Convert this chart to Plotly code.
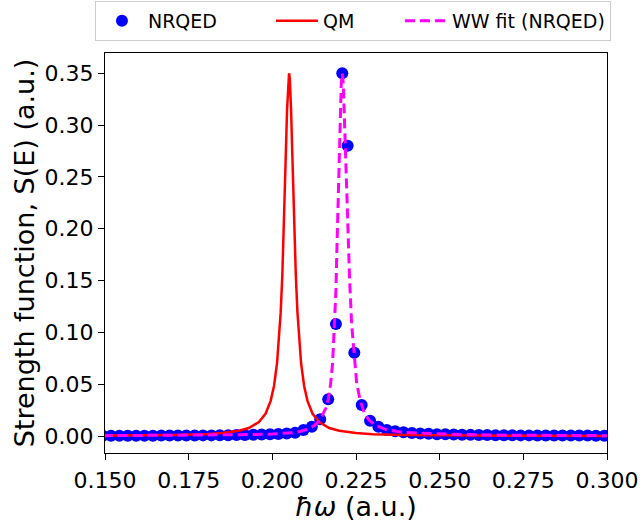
import plotly.graph_objects as go

# NRQED points
nrqed_x = [
    0.1493, 0.1518, 0.1543, 0.1568, 0.1593, 0.1618, 0.1643, 0.1668, 0.1693, 0.1718,
    0.1743, 0.1768, 0.1793, 0.1818, 0.1843, 0.1868, 0.1893, 0.1918, 0.1943, 0.1968,
    0.1993, 0.2018, 0.2043, 0.2068, 0.2093, 0.2118, 0.2143, 0.2167, 0.2190, 0.2209,
    0.2225, 0.2245, 0.2267, 0.2292, 0.2317, 0.2342, 0.2367, 0.2392, 0.2417, 0.2442,
    0.2467, 0.2492, 0.2517, 0.2542, 0.2567, 0.2592, 0.2617, 0.2642, 0.2667, 0.2692,
    0.2717, 0.2742, 0.2767, 0.2792, 0.2817, 0.2842, 0.2867, 0.2892, 0.2917, 0.2942,
    0.2967, 0.2992, 0.3017,
]
nrqed_y = [
    0.0002, 0.0002, 0.0002, 0.0003, 0.0003, 0.0003, 0.0003, 0.0004, 0.0004, 0.0004,
    0.0005, 0.0005, 0.0006, 0.0006, 0.0007, 0.0008, 0.0009, 0.0010, 0.0012, 0.0014,
    0.0017, 0.0020, 0.0025, 0.0032, 0.0058, 0.0090, 0.0161, 0.0354, 0.1081, 0.3500,
    0.2802, 0.0804, 0.0299, 0.0148, 0.0090, 0.0058, 0.0045, 0.0036, 0.0030, 0.0025,
    0.0021, 0.0018, 0.0016, 0.0014, 0.0012, 0.0011, 0.0010, 0.0009, 0.0008, 0.0007,
    0.0007, 0.0006, 0.0006, 0.0005, 0.0005, 0.0005, 0.0004, 0.0004, 0.0004, 0.0004,
    0.0003, 0.0003, 0.0003,
]

# QM curve
qm_x = [
    0.1493, 0.1550, 0.1700, 0.1800, 0.1850, 0.1900, 0.1930, 0.1960, 0.1980, 0.1995,
    0.2005, 0.2014, 0.2020, 0.2025, 0.2030, 0.2034, 0.2038, 0.2041, 0.2044, 0.2046,
    0.2048, 0.2050, 0.2052, 0.2054, 0.2056, 0.2059, 0.2062, 0.2066, 0.2070, 0.2075,
    0.2080, 0.2086, 0.2095, 0.2105, 0.2120, 0.2140, 0.2170, 0.2200, 0.2250, 0.2300,
    0.2400, 0.2550, 0.2750, 0.3017,
]
qm_y = [
    0.0004, 0.0005, 0.0009, 0.0018, 0.0028, 0.0050, 0.0077, 0.0135, 0.0217, 0.0339,
    0.0483, 0.0700, 0.0926, 0.1195, 0.1566, 0.1955, 0.2424, 0.2800, 0.3150, 0.3336,
    0.3457, 0.3500, 0.3457, 0.3336, 0.3150, 0.2800, 0.2424, 0.1955, 0.1566, 0.1195,
    0.0926, 0.0700, 0.0483, 0.0339, 0.0217, 0.0135, 0.0077, 0.0050, 0.0028, 0.0018,
    0.0009, 0.0005, 0.0002, 0.0001,
]

# WW fit to NRQED
ww_x = [
    0.1493, 0.1600, 0.1700, 0.1800, 0.1900, 0.1950, 0.2000, 0.2040, 0.2070, 0.2090,
    0.2110, 0.2125, 0.2138, 0.2148, 0.2160, 0.2167, 0.2174, 0.2180, 0.2186, 0.2190,
    0.2194, 0.2199, 0.2203, 0.2206, 0.2209, 0.2212, 0.2215, 0.2218, 0.2222, 0.2226,
    0.2231, 0.2237, 0.2245, 0.2252, 0.2262, 0.2275, 0.2290, 0.2310, 0.2340, 0.2380,
    0.2430, 0.2500, 0.2600, 0.2700, 0.2800, 0.2900, 0.3017,
]
ww_y = [
    0.0003, 0.0004, 0.0006, 0.0008, 0.0011, 0.0014, 0.0019, 0.0025, 0.0034, 0.0050,
    0.0072, 0.0100, 0.0140, 0.0190, 0.0270, 0.0350, 0.0500, 0.0700, 0.1080, 0.1400,
    0.1940, 0.2600, 0.3100, 0.3400, 0.3500, 0.3400, 0.3100, 0.2800, 0.2300, 0.1940,
    0.1500, 0.1080, 0.0750, 0.0510, 0.0350, 0.0220, 0.0150, 0.0100, 0.0062, 0.0040,
    0.0028, 0.0019, 0.0012, 0.0008, 0.0006, 0.0004, 0.0003,
]

x_ticks = [0.150, 0.175, 0.200, 0.225, 0.250, 0.275, 0.300]
y_ticks = [0.00, 0.05, 0.10, 0.15, 0.20, 0.25, 0.30, 0.35]

FONT = "DejaVu Sans"

fig = go.Figure()
fig.add_trace(go.Scatter(
    x=nrqed_x, y=nrqed_y, mode="markers", name="NRQED",
    marker=dict(color="#0000ff", size=12, line=dict(width=0)),
    legendwidth=118,
))
fig.add_trace(go.Scatter(
    x=qm_x, y=qm_y, mode="lines", name="QM",
    line=dict(color="#ff0000", width=2.5),
    legendwidth=72,
))
fig.add_trace(go.Scatter(
    x=ww_x, y=ww_y, mode="lines", name="WW fit (NRQED)",
    line=dict(color="#ff00ff", width=3, dash="10px,5px"),
))

axis_common = dict(
    showline=True, mirror=True, linecolor="black", linewidth=1.2,
    ticks="outside", ticklen=6, tickwidth=1.2, tickcolor="black",
    showgrid=False, zeroline=False, automargin=False,
    tickfont=dict(family=FONT, size=22, color="black"),
)
fig.update_xaxes(
    range=[0.15, 0.30], tickvals=x_ticks, tickformat=".3f",
    ticklabelstandoff=1,
    **axis_common,
)
fig.update_yaxes(
    range=[-0.0164, 0.3696], tickvals=y_ticks, tickformat=".2f",
    title=dict(text="Strength function, S(E) (a.u.)", font=dict(family=FONT, size=27, color="black"), standoff=2),
    **axis_common,
)
# x axis label placed by hand, just under the tick labels
fig.add_annotation(
    text="<i>ħω</i> (a.u.)", xref="paper", yref="paper", x=0.5, y=0,
    xanchor="center", yanchor="middle", yshift=-53, showarrow=False,
    font=dict(family=FONT, size=27, color="black"),
)
fig.update_layout(
    width=642, height=520,
    margin=dict(l=105, r=35, t=53, b=67, autoexpand=False),
    plot_bgcolor="white", paper_bgcolor="white",
    font=dict(family=FONT, color="black"),
    showlegend=True,
    legend=dict(
        orientation="h", x=-0.02, xanchor="left", y=1.13, yanchor="top",
        font=dict(family=FONT, size=19, color="black"),
        bordercolor="#cccccc", borderwidth=1, bgcolor="white",
        itemwidth=42,
    ),
)

# the page body has a default 8px margin; drop it so the figure sits at 0,0
fig.write_html(
    "out.html",
    config={"displayModeBar": False},
    post_script="document.body.style.margin = '0px';",
)
